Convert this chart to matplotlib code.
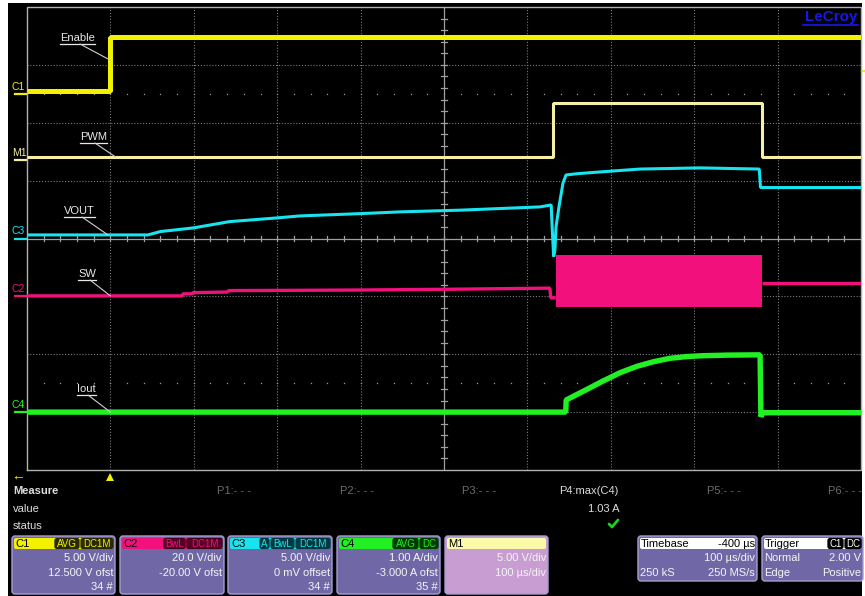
import matplotlib
matplotlib.use("Agg")
import matplotlib.pyplot as plt
from matplotlib.patches import Rectangle, FancyBboxPatch, Polygon

plt.rcParams['font.family'] = ['Liberation Sans', 'DejaVu Sans']

W, H = 865, 596
# graticule area in pixels
GX0, GX1, GY0, GY1 = 27, 861, 7, 470

# timebase: 100 us/div, 10 divisions, trigger one division from the left
time_per_div = 100.0
t_start = -100.0
n_xdiv, n_ydiv = 10, 8

# vertical settings: (units/div, offset)
c1_scale, c1_offset = 5.0, 12.5
c2_scale, c2_offset = 20.0, -20.0
c3_scale, c3_offset = 5.0, 0.0
c4_scale, c4_offset = 1.0, -3.0
m1_scale, m1_offset = 5.0, 6.75

# C1 Enable (V)
enable_t = [-100, 0, 0, 900]
enable_v = [0.25, 0.25, 4.9, 4.9]

# M1 PWM (V)
pwm_t = [-100, 531, 531, 781, 781, 900]
pwm_v = [0.3, 0.3, 4.95, 4.95, 0.3, 0.3]

# C3 VOUT (V)
vout_t = [-100, 45, 60, 100, 143, 200, 227, 300, 347, 420, 515, 528.5,
          530, 531.5, 533, 534.3, 537.9, 542.7, 546.3, 560, 587, 635, 707,
          778, 779.5, 781, 900]
vout_v = [0.31, 0.31, 0.6, 0.92, 1.46, 1.78, 1.95, 2.15, 2.3, 2.45, 2.73, 2.9,
          0.5, -1.56, -1.0, 1.0, 2.75, 4.8, 5.49, 5.6, 5.75, 6.0, 6.1,
          6.0, 4.4, 4.4, 4.4]

# C2 SW (V) outside the switching burst
sw_t = [-100, 86, 87, 98, 99, 140, 142, 227, 300, 420, 527, 528, 534]
sw_v = [0.17, 0.17, 0.86, 0.86, 1.3, 1.5, 2.0, 2.1, 2.2, 2.5, 2.85, -0.5, -0.5]
sw_after_t = [781, 900]
sw_after_v = [4.7, 4.7]
# switching burst envelope (V)
burst_t = [534, 781]
burst_hi = [14.3, 14.3]
burst_lo = [-3.5, -3.5]

# C4 Iout (A)
iout_t = [-100, 546, 546.5, 571, 591, 611, 631, 651, 671, 691, 711, 740, 779,
          780, 782, 900]
iout_a = [0.0, 0.0, 0.21, 0.39, 0.54, 0.68, 0.79, 0.87, 0.93, 0.96, 0.975,
          0.985, 0.99, -0.08, -0.01, -0.01]

# measurement readout
p4_value = "1.03 A"


def to_div(vals, scale, offset):
    return [n_ydiv / 2 + (v + offset) / scale for v in vals]


fig = plt.figure(figsize=(W / 100, H / 100), dpi=100)
fig.patch.set_facecolor('white')

bg = fig.add_axes([0, 0, 1, 1])
bg.set_xlim(0, W)
bg.set_ylim(H, 0)
bg.axis('off')
bg.add_patch(Rectangle((8, 3), 854, H - 3, facecolor='black', edgecolor='none', zorder=0))

ax = fig.add_axes([GX0 / W, 1 - GY1 / H, (GX1 - GX0) / W, (GY1 - GY0) / H])
ax.set_facecolor('none')
ax.set_xlim(t_start, t_start + n_xdiv * time_per_div)
ax.set_ylim(0, n_ydiv)
ax.axis('off')

t_end = t_start + n_xdiv * time_per_div
t_mid = t_start + n_xdiv / 2 * time_per_div
gridc = '#7c7c7c'
for k in range(1, n_xdiv):
    if k == n_xdiv // 2:
        continue
    ax.plot([t_start + k * time_per_div] * 2, [0, n_ydiv], color=gridc,
            lw=0.8, ls=(0, (1, 1.6)), zorder=1)
for k in range(1, n_ydiv):
    if k == n_ydiv // 2:
        continue
    ax.plot([t_start, t_end], [k, k], color=gridc, lw=0.8, ls=(0, (1, 1.6)), zorder=1)

# sparse dotted reference rows
for yr in (1.5, 6.5):
    xs = [t_start + i * time_per_div / 5 for i in range(1, n_xdiv * 5)]
    ax.plot(xs, [yr] * len(xs), ls='none', marker='s', ms=0.9, color='#9a9a9a',
            mec='none', zorder=1)

# center cross with minor ticks
axc = '#a0a0a0'
ax.plot([t_start, t_end], [n_ydiv / 2] * 2, color=axc, lw=0.9, zorder=1)
ax.plot([t_mid] * 2, [0, n_ydiv], color=axc, lw=0.9, zorder=1)
for i in range(1, n_xdiv * 5):
    tx = t_start + i * time_per_div / 5
    ax.plot([tx, tx], [n_ydiv / 2 - 0.05, n_ydiv / 2 + 0.05], color=axc, lw=0.9, zorder=1)
for i in range(1, n_ydiv * 5):
    ty = i / 5
    ax.plot([t_mid - 4, t_mid + 4], [ty, ty], color=axc, lw=0.9, zorder=1)

# border
ax.plot([t_start, t_start, t_end, t_end, t_start], [0, n_ydiv, n_ydiv, 0, 0],
        color='#b0b0b0', lw=1.0, zorder=1, clip_on=False)

# traces
col_c1 = '#f2f200'
col_m1 = '#f6f0a4'
col_c3 = '#18e4f0'
col_c2 = '#f2107c'
col_c4 = '#22f022'
tr = dict(solid_joinstyle='bevel', solid_capstyle='butt')

ax.plot(enable_t, to_div(enable_v, c1_scale, c1_offset), color=col_c1, lw=3.6,
        zorder=3, **tr)
ax.plot(pwm_t, to_div(pwm_v, m1_scale, m1_offset), color=col_m1, lw=2.2, zorder=3, **tr)
ax.plot(vout_t, to_div(vout_v, c3_scale, c3_offset), color=col_c3, lw=2.2, zorder=4, **tr)
ax.plot(sw_t, to_div(sw_v, c2_scale, c2_offset), color=col_c2, lw=2.4, zorder=3, **tr)
ax.plot(sw_after_t, to_div(sw_after_v, c2_scale, c2_offset), color=col_c2, lw=2.4,
        zorder=3, **tr)
ax.fill_between(burst_t, to_div(burst_lo, c2_scale, c2_offset),
                to_div(burst_hi, c2_scale, c2_offset), color=col_c2, lw=0, zorder=3)
ax.plot(iout_t, to_div(iout_a, c4_scale, c4_offset), color=col_c4, lw=3.9, zorder=3, **tr)

# trace labels with leader lines
labels = [
    ("Enable", 60, 38, 80, 0, to_div([2.9], c1_scale, c1_offset)[0]),
    ("PWM", 80, 137, 95, 6, to_div([0.3], m1_scale, m1_offset)[0]),
    ("VOUT", 64, 211, 82, -3, to_div([0.31], c3_scale, c3_offset)[0]),
    ("SW", 78, 274, 90, 0, to_div([0.17], c2_scale, c2_offset)[0]),
    ("Iout", 77, 389, 88, 0, to_div([0.0], c4_scale, c4_offset)[0]),
]
fig.canvas.draw()
for txt, x, y, lx, tt, ty in labels:
    t = bg.text(x, y, txt, color='#e8e8e8', fontsize=8, va='center', ha='left', zorder=6)
    bb = t.get_window_extent(renderer=fig.canvas.get_renderer())
    uy = y + 6
    bg.plot([bb.x0, bb.x1], [uy, uy], color='#e8e8e8', lw=0.9, zorder=6)
    ax.annotate('', xy=(tt, ty), xytext=(lx, H - uy), textcoords='figure pixels',
                arrowprops=dict(arrowstyle='-', color='#d0d0d0', lw=0.8,
                                shrinkA=0, shrinkB=0), zorder=6)

# channel ground markers on the left edge
markers = [
    ("C1", col_c1, to_div([0], c1_scale, c1_offset)[0]),
    ("M1", col_m1, to_div([0], m1_scale, m1_offset)[0]),
    ("C3", col_c3, to_div([0], c3_scale, c3_offset)[0]),
    ("C2", col_c2, to_div([0], c2_scale, c2_offset)[0]),
    ("C4", col_c4, to_div([0], c4_scale, c4_offset)[0]),
]
for name, c, yd in markers:
    ypx = GY1 - yd * (GY1 - GY0) / n_ydiv
    bg.plot([15, 26], [ypx, ypx], color=c, lw=1.6, zorder=6)
    bg.text(12, ypx - 7, name, color=c, fontsize=7.5, va='center', ha='left', zorder=6)

# trigger level marker on the right edge
trig_div = to_div([2.0], c1_scale, c1_offset)[0]
typ = GY1 - trig_div * (GY1 - GY0) / n_ydiv
bg.plot([862, 866], [typ, typ], color=col_c1, lw=1.6, zorder=6)

# trigger position marker and left arrow
bg.add_patch(Polygon([[106, 481], [114, 481], [110, 473]], closed=True,
                     facecolor=col_c1, edgecolor='none', zorder=6))
bg.text(18, 476, "\u2190", color=col_c1, fontsize=10, ha='center', va='center', zorder=6)

# LeCroy logo
bg.text(858, 17, "LeCroy", color='#1818e8', fontsize=11, fontweight='bold',
        ha='right', va='center', zorder=6)
bg.plot([803, 858], [25, 25], color='#1818e8', lw=1.2, zorder=6)

# measurement area
lt = '#dcdcdc'
bg.text(13, 491, "Measure", color=lt, fontsize=8, fontweight='bold', va='center')
bg.text(13, 509, "value", color=lt, fontsize=8, va='center')
bg.text(13, 526, "status", color=lt, fontsize=8, va='center')
for name, x in (("P1:- - -", 217), ("P2:- - -", 340), ("P3:- - -", 462),
                ("P5:- - -", 707), ("P6:- - -", 828)):
    bg.text(x, 491, name, color='#6c6c6c', fontsize=8, va='center')
bg.text(559, 491, "P4:max(C4)", color=lt, fontsize=8, va='center')
bg.text(620, 509, p4_value, color=lt, fontsize=8, va='center', ha='right')
bg.plot([609, 612, 618], [524, 527, 520], color='#20d020', lw=2.0,
        solid_capstyle='round', zorder=6)

# descriptor boxes
body = '#7068a6'
edge = '#a69ed2'


def panel(x0, x1, y0, y1, head_col, head_txt, lines, body_col=body,
          head_txt_col='black'):
    bg.add_patch(FancyBboxPatch((x0, y0), x1 - x0, y1 - y0,
                                boxstyle='round,pad=0,rounding_size=3',
                                facecolor=body_col, edgecolor=edge, lw=1.0, zorder=5))
    bg.add_patch(FancyBboxPatch((x0 + 2, y0 + 2), x1 - x0 - 4, 11,
                                boxstyle='round,pad=0,rounding_size=2',
                                facecolor=head_col, edgecolor='none', zorder=6))
    bg.text(x0 + 3, y0 + 8, head_txt, color=head_txt_col, fontsize=8, va='center',
            ha='left', zorder=7)
    for (txt, ha, yy) in lines:
        xx = x1 - 2 if ha == 'right' else x0 + 2
        bg.text(xx, yy, txt, color='#f4f4f4', fontsize=8, va='center', ha=ha, zorder=7)


def badge(x0, x1, y0, txt, fill, fg, ec):
    bg.add_patch(FancyBboxPatch((x0, y0), x1 - x0, 10,
                                boxstyle='round,pad=0,rounding_size=2',
                                facecolor=fill, edgecolor=ec, lw=0.9, zorder=8))
    bg.text((x0 + x1) / 2, y0 + 5.5, txt, color=fg, fontsize=7, va='center',
            ha='center', zorder=9)


PY0, PY1 = 536, 594
panel(12, 115, PY0, PY1, col_c1, "C1",
      [("5.00 V/div", 'right', 558), ("12.500 V ofst", 'right', 573), ("34 #", 'right', 587)])
badge(55, 79, PY0 + 2.5, "AVG", '#2a2a00', col_c1, '#2a2a00')
badge(81, 113, PY0 + 2.5, "DC1M", '#2a2a00', col_c1, '#2a2a00')

panel(120, 224, PY0, PY1, col_c2, "C2",
      [("20.0 V/div", 'right', 558), ("-20.00 V ofst", 'right', 573)])
badge(164, 185, PY0 + 2.5, "BwL", '#5a0026', col_c2, '#3a0018')
badge(187, 222, PY0 + 2.5, "DC1M", '#5a0026', col_c2, '#3a0018')

panel(228, 332, PY0, PY1, col_c3, "C3",
      [("5.00 V/div", 'right', 558), ("0 mV offset", 'right', 573), ("34 #", 'right', 587)])
badge(260, 269, PY0 + 2.5, "A", '#003a40', col_c3, '#003a40')
badge(271, 294, PY0 + 2.5, "BwL", '#003a40', col_c3, '#003a40')
badge(296, 330, PY0 + 2.5, "DC1M", '#003a40', col_c3, '#003a40')

panel(337, 440, PY0, PY1, col_c4, "C4",
      [("1.00 A/div", 'right', 558), ("-3.000 A ofst", 'right', 573), ("35 #", 'right', 587)])
badge(393, 418, PY0 + 2.5, "AVG", '#003a00', col_c4, '#003a00')
badge(420, 438, PY0 + 2.5, "DC", '#003a00', col_c4, '#003a00')

panel(445, 548, PY0, PY1, '#fafaa8', "M1",
      [("5.00 V/div", 'right', 558), ("100 \u00b5s/div", 'right', 573)],
      body_col='#c89ed2')

panel(638, 757, PY0, 581, 'white', "Timebase",
      [("100 \u00b5s/div", 'right', 558), ("250 kS", 'left', 573), ("250 MS/s", 'right', 573)])
bg.text(755, PY0 + 8, "-400 \u00b5s", color='black', fontsize=8, va='center', ha='right', zorder=7)

panel(762, 863, PY0, 581, 'white', "Trigger",
      [("Normal", 'left', 558), ("2.00 V", 'right', 558), ("Edge", 'left', 573),
       ("Positive", 'right', 573)])
badge(828, 843, PY0 + 2.5, "C1", 'black', 'white', 'black')
badge(845, 861, PY0 + 2.5, "DC", 'black', 'white', 'black')

fig.savefig("out.png", dpi=100, facecolor=fig.get_facecolor())
